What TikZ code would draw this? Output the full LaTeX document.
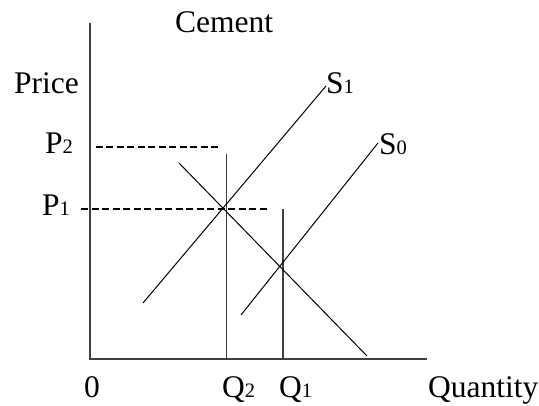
\documentclass[tikz,border=0pt]{standalone}
\usepackage{fontspec}
\setmainfont{Liberation Serif}
\newcommand\sbs[1]{{\fontsize{20.5}{20.5}\selectfont #1}}
\begin{document}
\begin{tikzpicture}[x=1pt,y=-1pt,
  lbl/.style={anchor=base west,inner sep=0pt,font=\fontsize{31.5}{31.5}\selectfont},
  axis/.style={draw=black!75,line width=1.6pt},
  curve/.style={draw=black,line width=1pt},
  guide/.style={draw=black!75,line width=1.6pt},
  dsh/.style={draw=black,line width=1.5pt,dash pattern=on 7pt off 3.5pt}]
\useasboundingbox (0,0) rectangle (539,406);
% axes
\coordinate (top) at (90,23);
\coordinate (O) at (90,359);
\coordinate (xend) at (427,359);
\draw[axis] (top) -- (O) -- (xend);
% vertical guides
\coordinate (q2t) at (226.5,154);
\coordinate (q2b) at (226.5,359);
\coordinate (q1t) at (283,209);
\coordinate (q1b) at (283,359);
\draw[guide] (q2t) -- (q2b);
\draw[guide] (q1t) -- (q1b);
% dashed price lines
\coordinate (p2a) at (95.5,147);
\coordinate (p2b) at (220.5,147);
\coordinate (p1a) at (81,209);
\coordinate (p1b) at (269,209);
\draw[dsh] (p2a) -- (p2b);
\draw[dsh] (p1a) -- (p1b);
% demand
\coordinate (da) at (179,163);
\coordinate (db) at (367,356);
\draw[curve] (da) -- (db);
% supply curves
\coordinate (s1a) at (143,303);
\coordinate (s1b) at (326,86);
\coordinate (s0a) at (241,315);
\coordinate (s0b) at (378,143);
\draw[curve] (s1a) -- (s1b);
\draw[curve] (s0a) -- (s0b);
% labels
\node[lbl] (cement) at (175,33) {Cement};
\node[lbl] (price) at (14,94) {Price};
\node[lbl] (P2) at (45,154) {P\sbs{2}};
\node[lbl] (P1) at (42,216) {P\sbs{1}};
\node[lbl] (S1) at (326,94) {S\sbs{1}};
\node[lbl] (S0) at (379,155) {S\sbs{0}};
\node[lbl] (zero) at (84,398) {0};
\node[lbl] (Q2) at (222,398) {Q\sbs{2}};
\node[lbl] (Q1) at (279,398) {Q\sbs{1}};
\node[lbl] (qty) at (428,398) {Quantity};
\end{tikzpicture}
\end{document}
